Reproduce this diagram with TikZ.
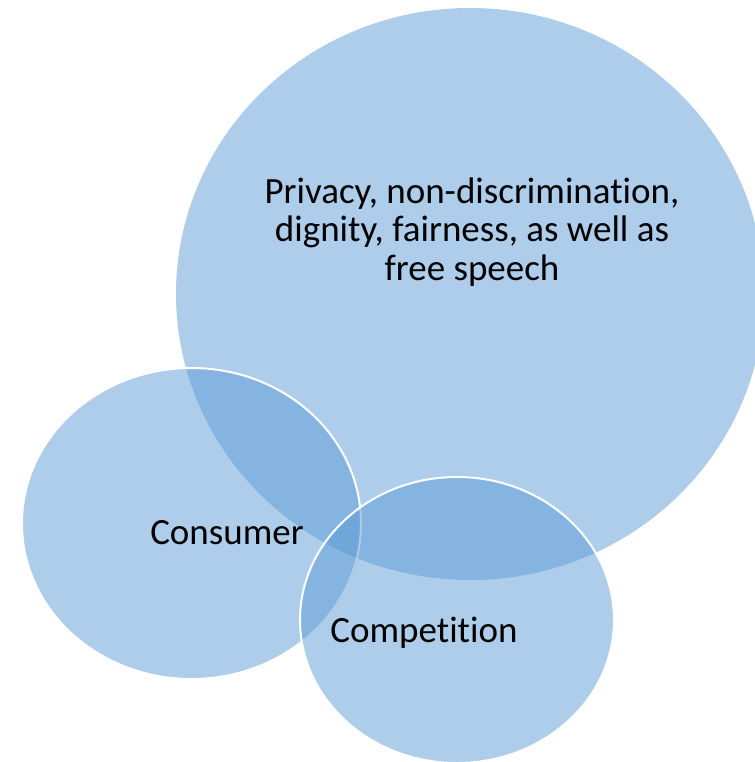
\documentclass[tikz,border=0pt]{standalone}
\usepackage{fontspec}
\setmainfont{Carlito}[Ligatures=NoCommon]
\usetikzlibrary{shapes.geometric}
\definecolor{vennblue}{RGB}{91,155,213}
\begin{document}
\begin{tikzpicture}[x=1pt,y=-1pt]
\tikzstyle{venn}=[ellipse, inner sep=0pt, fill=vennblue, fill opacity=0.5, draw=white, line width=2pt]
\tikzstyle{venntext}=[inner sep=0pt, anchor=base, font=\fontsize{37}{38.5}\selectfont, align=center]
\useasboundingbox (0,0) rectangle (754,762);
  \node[venn, draw=none, minimum width=588pt, minimum height=572pt] (rights) at (470,294) {};
  \node[venn, minimum width=339pt, minimum height=311pt] (consumer) at (191.5,523.5) {};
  \node[venn, minimum width=314pt, minimum height=286pt] (competition) at (457,620) {};
  \node[venntext] (rightstext) at (472,280) {Privacy, non-discrimination,\\dignity, fairness, as well as\\free speech};
  \node[venntext] (consumertext) at (227,544) {Consumer};
  \node[venntext] (competitiontext) at (424,642) {Competition};
\end{tikzpicture}
\end{document}
